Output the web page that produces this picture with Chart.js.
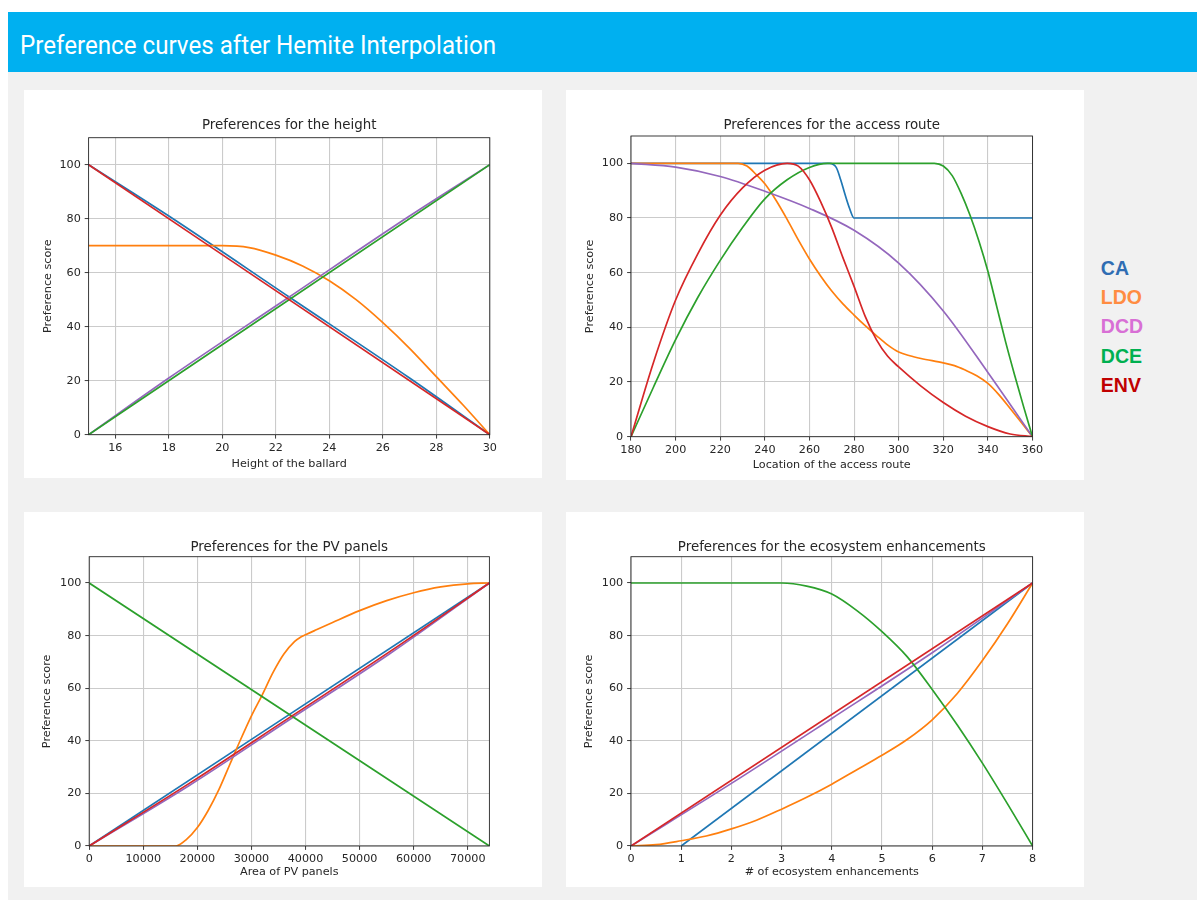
<!DOCTYPE html>
<html>
<head>
<meta charset="utf-8">
<title>Preference curves after Hemite Interpolation</title>
<script src="https://cdn.jsdelivr.net/npm/chart.js@4.4.1/dist/chart.umd.min.js"></script>
<style>
  html, body { margin: 0; padding: 0; background: #ffffff; }
  body { width: 1197px; height: 900px; position: relative; overflow: hidden; }
  #sheet { position: absolute; left: 8px; top: 12px; width: 1189px; height: 888px; background: #f1f1f1; }
  #banner { position: absolute; left: 8px; top: 12px; width: 1189px; height: 60px; background: #00b0f0; }
  #banner span {
    position: absolute; left: 12.3px; top: 19.5px;
    font-family: Roboto, "Open Sans", sans-serif; font-size: 26px; line-height: 1;
    color: #ffffff; white-space: nowrap; transform-origin: 0 0;
  }
  .panel { position: absolute; background: #ffffff; }
  .panel canvas { display: block; }
  .key {
    position: absolute; left: 1100.8px;
    font-family: "Liberation Sans", Arial, sans-serif; font-weight: bold;
    font-size: 19.5px; line-height: 1; white-space: nowrap;
  }
</style>
</head>
<body>
<div id="sheet"></div>
<div id="banner"><span id="bannerText">Preference curves after Hemite Interpolation</span></div>

<div class="panel" id="p1" style="left:24px;top:90px;width:518px;height:388px;"><canvas id="cHeight"></canvas></div>
<div class="panel" id="p2" style="left:566px;top:90px;width:518px;height:390px;"><canvas id="cRoute"></canvas></div>
<div class="panel" id="p3" style="left:24px;top:512px;width:518px;height:375px;"><canvas id="cPV"></canvas></div>
<div class="panel" id="p4" style="left:566px;top:512px;width:518px;height:375px;"><canvas id="cEco"></canvas></div>

<div id="keys"></div>

<script>
// ---- stakeholder groups ----
const groups = ['CA', 'LDO', 'DCD', 'DCE', 'ENV'];

// ---- preference curves: [x, score] pairs ----
// height of the ballard
const heightCA  = [[15,100],[18,81],[22.5,51],[27,21],[30,0]];
const heightLDO = [[15,70],[20,70],[21,69.3],[22,66.5],[23,62.5],[24,57],[25,50],[26,41.5],[27,32],[28,21.5],[29,11],[30,0]];
const heightDCD = [[15,0],[18,21],[22.5,51],[27,81],[30,100]];
const heightDCE = [[15,0],[30,100]];
const heightENV = [[15,100],[30,0]];

// location of the access route
const routeCA  = [[180,100],[269,100],[272,98.5],[274,94],[276,88.5],[278,83.5],[280,80],[360,80]];
const routeLDO = [[180,100],[228,100],[232,99],[236,96],[240,92.5],[245,86.5],[250,79.5],[255,72],[260,65],[265,58.8],[270,53.3],[275,48.6],[280,44.5],[285,40.6],[290,37],[295,33.6],[300,31],[305,29.6],[310,28.6],[320,27],[325,26],[330,24.3],[335,22.3],[340,19.5],[345,15.3],[350,10.3],[355,5.2],[360,0]];
const routeDCD = [[180,100],[200,98.6],[220,95.2],[240,89.8],[260,83.5],[280,75.5],[300,63.5],[320,46],[340,23.5],[360,0]];
const routeDCE = [[180,0],[190,18],[200,35.5],[210,51],[220,64.5],[230,76.5],[240,87],[250,94],[260,98.5],[268,100],[316,100],[320,99],[324,95.5],[328,89],[332,81],[336,71.5],[340,60.5],[344,47.5],[348,34.5],[352,22.5],[356,11],[360,0]];
const routeENV = [[180,0],[190,27],[200,50],[210,67],[220,81],[230,91],[240,97.5],[250,100],[255,99],[260,94],[265,86],[270,76.5],[275,65.5],[280,55],[285,44],[290,35.5],[295,29.5],[300,25.5],[310,18.5],[320,12.5],[330,7.5],[340,3.7],[350,1],[360,0]];

// area of PV panels
const pvCA  = [[0,0],[74000,100]];
const pvLDO = [[0,0],[16000,0],[18000,2.5],[20000,7],[22000,13.5],[24000,21.5],[26000,31],[28000,40.5],[30000,49.5],[32000,57.5],[34000,66],[36000,73],[38000,77.8],[39000,79.3],[40000,80.3],[42000,82.2],[45000,85],[50000,89.5],[55000,93.3],[60000,96.3],[65000,98.5],[70000,99.7],[74000,100]];
const pvDCD = [[0,0],[18500,23],[37000,48],[55500,73],[74000,100]];
const pvDCE = [[0,100],[74000,0]];
const pvENV = [[0,0],[18500,23.8],[37000,48.8],[55500,73.8],[74000,100]];

// number of ecosystem enhancements
const ecoCA  = [[1,0],[8,100]];
const ecoLDO = [[0,0],[0.5,0.5],[1,2],[1.5,3.8],[2,6.5],[2.5,9.8],[3,14],[3.5,18.5],[4,23.5],[4.5,29],[5,34.5],[5.5,40.5],[6,48],[6.5,58],[7,70.5],[7.5,84.5],[8,100]];
const ecoDCD = [[0,0],[2,23.8],[4,48.5],[6,73.5],[8,100]];
const ecoDCE = [[0,100],[3,100],[3.5,98.8],[4,95.8],[4.5,89.5],[5,81.5],[5.5,72],[6,59.5],[6.5,46],[7,31.5],[7.5,16],[8,0]];
const ecoENV = [[0,0],[8,100]];

// ---- tick labels ----
const scoreTicks  = [0, 20, 40, 60, 80, 100];
const heightTicks = [16, 18, 20, 22, 24, 26, 28, 30];
const routeTicks  = [180, 200, 220, 240, 260, 280, 300, 320, 340, 360];
const pvTicks     = [0, 10000, 20000, 30000, 40000, 50000, 60000, 70000];
const ecoTicks    = [0, 1, 2, 3, 4, 5, 6, 7, 8];

// ---- styling ----
const lineColors = { CA: '#1f77b4', LDO: '#ff7f0e', DCD: '#9467bd', DCE: '#2ca02c', ENV: '#d62728' };
const keyColors  = { CA: '#2f6db3', LDO: '#ff8c42', DCD: '#d86fd5', DCE: '#00b050', ENV: '#c00000' };
const INK = '#262626';
const GRID = '#cbcbcb';
const FONT = '"DejaVu Sans", Verdana, sans-serif';

// frame around the plot area plus the plot title, centred over the axes
const frameAndTitle = {
  id: 'frameAndTitle',
  afterDatasetsDraw(chart, args, o) {
    const { ctx, chartArea: a } = chart;
    ctx.save();
    ctx.strokeStyle = INK;
    ctx.lineWidth = 0.9;
    ctx.strokeRect(a.left, a.top, a.right - a.left, a.bottom - a.top);
    ctx.fillStyle = INK;
    ctx.font = o.size + 'px ' + FONT;
    ctx.textAlign = 'center';
    ctx.textBaseline = 'alphabetic';
    ctx.fillText(o.text, (a.left + a.right) / 2, a.top - o.gap);
    ctx.restore();
  }
};

function makeChart(canvasId, spec) {
  const datasets = groups.map((g, i) => ({
    label: g,
    data: spec.series[i].map(([x, y]) => ({ x, y })),
    borderColor: lineColors[g],
    backgroundColor: lineColors[g],
    borderWidth: 1.7,
    pointRadius: 0,
    fill: false,
    cubicInterpolationMode: 'monotone',
    order: groups.length - i
  }));
  const tickFont = { family: FONT, size: 11.2 };
  const g = spec.geom;
  return new Chart(document.getElementById(canvasId), {
    type: 'line',
    data: { datasets },
    plugins: [frameAndTitle],
    options: {
      animation: false,
      responsive: true,
      maintainAspectRatio: false,
      devicePixelRatio: 1,
      layout: { padding: { left: 0, top: g.top, right: g.right, bottom: 0 } },
      plugins: {
        legend: { display: false },
        tooltip: { enabled: false },
        frameAndTitle: { text: spec.title, size: 13.4, gap: g.titleGap }
      },
      scales: {
        x: {
          type: 'linear',
          min: spec.xMin, max: spec.xMax,
          afterBuildTicks: s => { s.ticks = spec.xTicks.map(v => ({ value: v })); },
          afterFit: s => { s.height = g.xHeight; },
          ticks: {
            autoSkip: false, maxRotation: 0, padding: 2.7, color: INK, font: tickFont,
            callback: v => String(v)
          },
          grid: { color: GRID, lineWidth: 1.1, drawTicks: true, tickLength: 3.9, tickColor: INK, tickWidth: 0.9 },
          border: { display: false },
          title: { display: true, text: spec.xTitle, color: INK, font: tickFont, padding: { top: 0, bottom: g.xTitlePad } }
        },
        y: {
          type: 'linear',
          min: 0, max: 110,
          afterBuildTicks: s => { s.ticks = scoreTicks.map(v => ({ value: v })); },
          afterFit: s => { s.width = g.yWidth; },
          ticks: { autoSkip: false, padding: 3.9, color: INK, font: tickFont, callback: v => String(v) },
          grid: { color: GRID, lineWidth: 1.1, drawTicks: true, tickLength: 3.9, tickColor: INK, tickWidth: 0.9 },
          border: { display: false },
          title: { display: true, text: 'Preference score', color: INK, font: tickFont, padding: { top: g.yTitlePad, bottom: 0 } }
        }
      }
    }
  });
}

makeChart('cHeight', {
  title: 'Preferences for the height', xTitle: 'Height of the ballard',
  xMin: 15, xMax: 30, xTicks: heightTicks,
  series: [heightCA, heightLDO, heightDCD, heightDCE, heightENV],
  geom: { top: 47.7, right: 52.2, yWidth: 64.6, xHeight: 43.3, titleGap: 9, xTitlePad: 7.3, yTitlePad: 17.3 }
});
makeChart('cRoute', {
  title: 'Preferences for the access route', xTitle: 'Location of the access route',
  xMin: 180, xMax: 360, xTicks: routeTicks,
  series: [routeCA, routeLDO, routeDCD, routeDCE, routeENV],
  geom: { top: 46, right: 51.5, yWidth: 65, xHeight: 43.3, titleGap: 7, xTitlePad: 8.3, yTitlePad: 17.3 }
});
makeChart('cPV', {
  title: 'Preferences for the PV panels', xTitle: 'Area of PV panels',
  xMin: 0, xMax: 74000, xTicks: pvTicks,
  series: [pvCA, pvLDO, pvDCD, pvDCE, pvENV],
  geom: { top: 44.7, right: 52.6, yWidth: 65.2, xHeight: 41, titleGap: 6, xTitlePad: 7.8, yTitlePad: 16.8 }
});
makeChart('cEco', {
  title: 'Preferences for the ecosystem enhancements', xTitle: '# of ecosystem enhancements',
  xMin: 0, xMax: 8, xTicks: ecoTicks,
  series: [ecoCA, ecoLDO, ecoDCD, ecoDCE, ecoENV],
  geom: { top: 44.7, right: 51.4, yWidth: 65, xHeight: 41, titleGap: 6, xTitlePad: 7.8, yTitlePad: 16.8 }
});

// group key on the right
const keys = document.getElementById('keys');
groups.forEach((g, i) => {
  const d = document.createElement('div');
  d.className = 'key';
  d.textContent = g;
  d.style.color = keyColors[g];
  d.style.top = (259.2 + i * 29.1) + 'px';
  keys.appendChild(d);
});

// fit banner text to its measured span
function fitBanner() {
  const s = document.getElementById('bannerText');
  s.style.transform = 'none';
  const w = s.getBoundingClientRect().width;
  if (w > 0) s.style.transform = 'scaleX(' + (476 / w) + ')';
}
fitBanner();
if (document.fonts && document.fonts.ready) document.fonts.ready.then(fitBanner);
</script>
</body>
</html>
